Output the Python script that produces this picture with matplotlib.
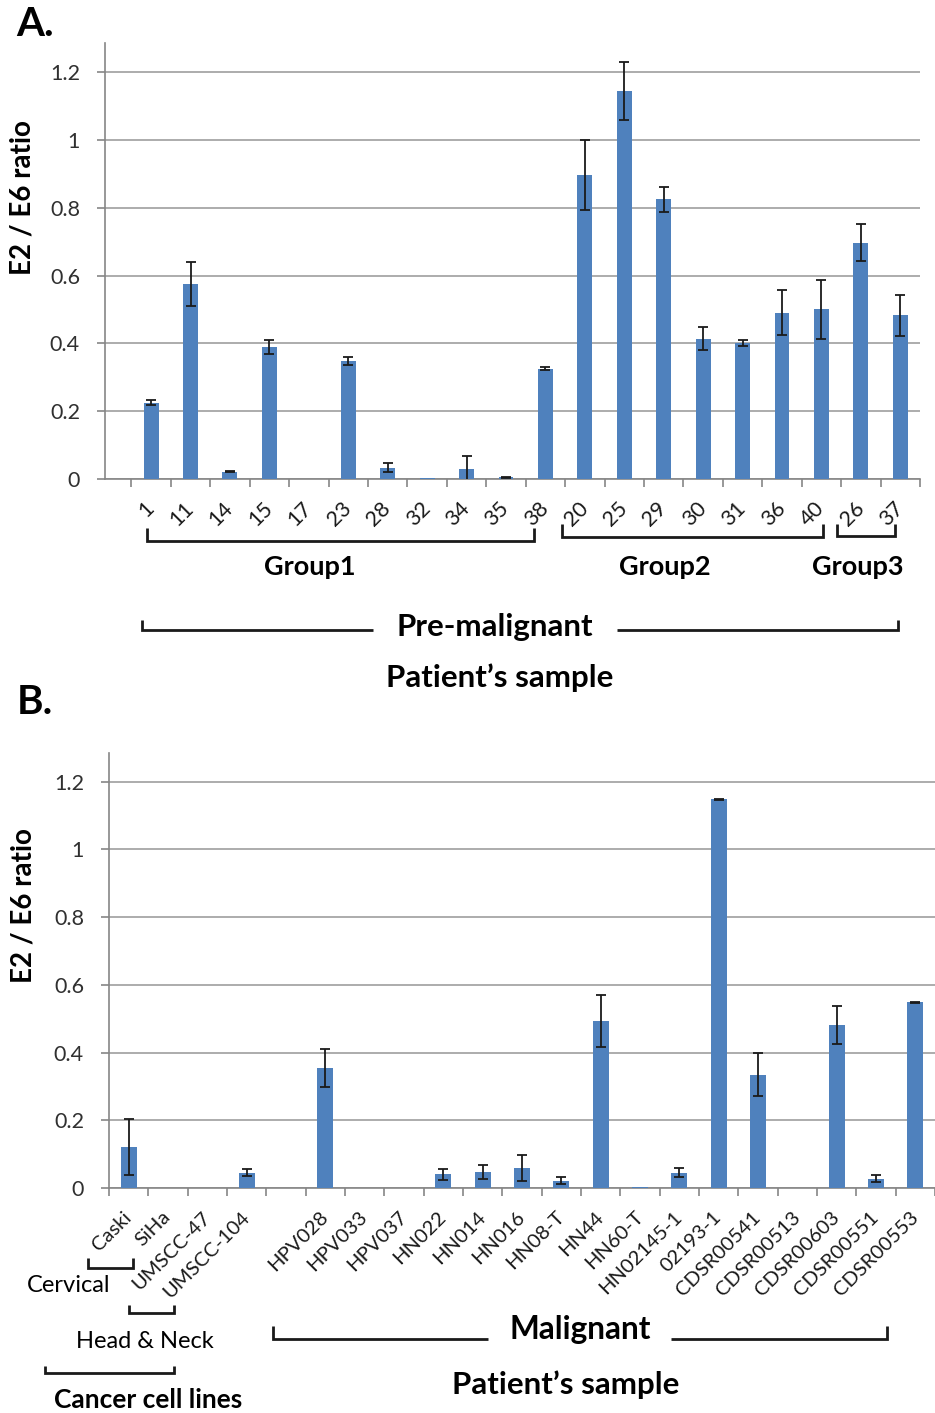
import numpy as np
import matplotlib
matplotlib.use("Agg")
import matplotlib.pyplot as plt
from matplotlib.lines import Line2D

plt.rcParams['font.family'] = ['Lato', 'DejaVu Sans']

# panel A: pre-malignant patient samples
a_labels = ['1', '11', '14', '15', '17', '23', '28', '32', '34', '35', '38',
            '20', '25', '29', '30', '31', '36', '40',
            '26', '37']
a_values = [0.225, 0.575, 0.021, 0.389, 0.0, 0.347, 0.033, 0.003, 0.030, 0.004, 0.325,
            0.897, 1.145, 0.825, 0.414, 0.401, 0.490, 0.500,
            0.697, 0.483]
a_err = [0.006, 0.064, 0.001, 0.021, 0.0, 0.011, 0.014, 0.0, 0.036, 0.002, 0.005,
         0.103, 0.085, 0.037, 0.034, 0.009, 0.066, 0.088,
         0.054, 0.061]

# panel B: cell lines + malignant patient samples ('' = empty slot)
b_labels = ['Caski', 'SiHa', 'UMSCC-47', 'UMSCC-104', '',
            'HPV028', 'HPV033', 'HPV037', 'HN022', 'HN014', 'HN016', 'HN08-T',
            'HN44', 'HN60-T', 'HN02145-1', '02193-1', 'CDSR00541', 'CDSR00513',
            'CDSR00603', 'CDSR00551', 'CDSR00553']
b_values = [0.121, 0.0, 0.0, 0.045, 0.0,
            0.355, 0.0, 0.0, 0.040, 0.048, 0.059, 0.022,
            0.493, 0.003, 0.045, 1.148, 0.335, 0.0,
            0.482, 0.028, 0.548]
b_err = [0.083, 0.0, 0.0, 0.011, 0.0,
         0.057, 0.0, 0.0, 0.016, 0.021, 0.037, 0.010,
         0.077, 0.0, 0.013, 0.002, 0.064, 0.0,
         0.057, 0.010, 0.002]

yticks = [0, 0.2, 0.4, 0.6, 0.8, 1.0, 1.2]
ytick_labels = ['0', '0.2', '0.4', '0.6', '0.8', '1', '1.2']

W, H = 935, 1413
BLUE = '#4F81BD'
GRID = '#A6A6A6'
AXC = '#868686'

fig = plt.figure(figsize=(W / 100, H / 100), dpi=100)


def px_rect(l, t, r, b):
    return [l / W, 1 - b / H, (r - l) / W, (b - t) / H]


def fx(x):
    return x / W


def fy(y):
    return 1 - y / H


def line(xs, ys, lw=2.0):
    fig.add_artist(Line2D([fx(v) for v in xs], [fy(v) for v in ys],
                          color='#1a1a1a', lw=lw, solid_capstyle='butt',
                          solid_joinstyle='miter'))


def bar_panel(ax, labels, values, err, xlim, ytop, width, xsize):
    x = np.arange(len(labels))
    ax.bar(x, values, width=width, color=BLUE, zorder=3)
    e = np.array(err)
    v = np.array(values)
    m = e > 0
    ax.errorbar(x[m], v[m], yerr=e[m], fmt='none', ecolor='#1a1a1a',
                elinewidth=1.3, capsize=3.8, capthick=1.3, zorder=4)
    ax.set_xlim(*xlim)
    ax.set_ylim(0, ytop)
    ax.set_yticks(yticks)
    ax.set_yticklabels(ytick_labels)
    ax.yaxis.grid(True, color=GRID, lw=1.3)
    ax.set_axisbelow(True)
    for s in ['top', 'right']:
        ax.spines[s].set_visible(False)
    for s in ['left', 'bottom']:
        ax.spines[s].set_color(AXC)
        ax.spines[s].set_linewidth(1.2)
    ax.tick_params(axis='y', direction='out', length=6, color=AXC, width=1.2,
                   labelsize=15.5, labelcolor='#303030', pad=12)
    ax.set_xticks(x)
    ax.set_xticklabels(labels, rotation=45, ha='right', va='center',
                       rotation_mode='anchor')
    ax.tick_params(axis='x', which='major', length=0, labelsize=xsize,
                   labelcolor='#1a1a1a', pad=19)
    ax.set_xticks(np.arange(-0.5, len(labels) - 0.4, 1.0), minor=True)
    ax.tick_params(axis='x', which='minor', direction='out', length=6,
                   color=AXC, width=1.2)
    ax.set_ylabel('E2 / E6 ratio', fontsize=20, fontweight='bold')


axA = fig.add_axes(px_rect(105, 43.3, 920, 478.7))
bar_panel(axA, a_labels, a_values, a_err, (-1.17, 19.41), 1.286, 0.38, 15.5)
axA.yaxis.set_label_coords(-0.085, 0.645)

axB = fig.add_axes(px_rect(109, 753.3, 935, 1188))
bar_panel(axB, b_labels, b_values, b_err, (-0.5, 20.44), 1.284, 0.40, 14.5)
axB.yaxis.set_label_coords(-0.088, 0.649)

# panel letters
fig.text(fx(35), fy(25), 'A.', fontsize=29, fontweight='bold', ha='center', va='center')
fig.text(fx(35), fy(703), 'B.', fontsize=29, fontweight='bold', ha='center', va='center')

# panel A group brackets
line([147, 147, 534, 534], [528, 541, 541, 528])
line([562, 562, 823, 823], [524, 537, 537, 524])
line([837, 837, 895, 895], [524, 536, 536, 524])
for gx, gname in [(310, 'Group1'), (665, 'Group2'), (858, 'Group3')]:
    fig.text(fx(gx), fy(567), gname, fontsize=19.5, fontweight='bold',
             ha='center', va='center')

line([142, 142, 373], [620, 630, 630])
line([617, 898, 898], [630, 630, 620])
fig.text(fx(495), fy(627), 'Pre-malignant', fontsize=22.5, fontweight='bold',
         ha='center', va='center')
fig.text(fx(500), fy(678), 'Patient\u2019s sample', fontsize=22.5, fontweight='bold',
         ha='center', va='center')

# panel B brackets
line([88, 88, 133, 133], [1258, 1268, 1268, 1258])
fig.text(fx(69), fy(1286), 'Cervical', fontsize=17, ha='center', va='center')
line([129, 129, 174, 174], [1305, 1313, 1313, 1305])
fig.text(fx(145), fy(1342), 'Head & Neck', fontsize=17, ha='center', va='center')
line([45, 45, 174, 174], [1366, 1373, 1373, 1366])
fig.text(fx(148), fy(1400), 'Cancer cell lines', fontsize=19, fontweight='bold',
         ha='center', va='center')

line([273, 273, 488], [1326, 1339, 1339])
line([671, 887, 887], [1339, 1339, 1326])
fig.text(fx(580), fy(1330), 'Malignant', fontsize=22.8, fontweight='bold',
         ha='center', va='center')
fig.text(fx(566), fy(1385), 'Patient\u2019s sample', fontsize=22.5, fontweight='bold',
         ha='center', va='center')

fig.savefig('out.png', dpi=100, facecolor='white')
